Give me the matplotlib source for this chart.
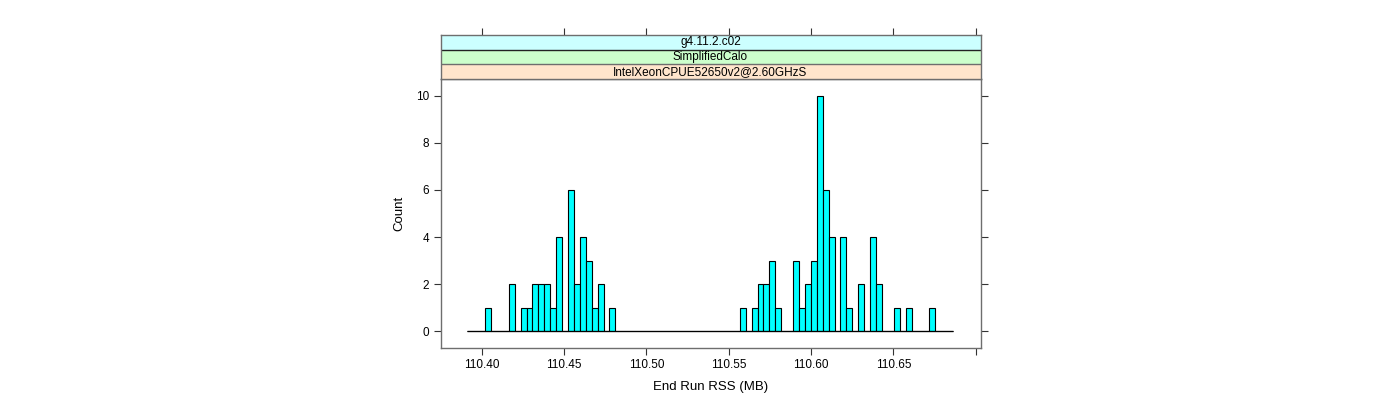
import matplotlib
matplotlib.use("Agg")
import matplotlib.pyplot as plt
import numpy as np

# ---- data ----
bin_start = 110.39126
bin_width = 0.003597
counts = [0, 0, 0, 1, 0, 0, 0, 2, 0, 1,
          1, 2, 2, 2, 1, 4, 0, 6, 2, 4,
          3, 1, 2, 0, 1, 0, 0, 0, 0, 0,
          0, 0, 0, 0, 0, 0, 0, 0, 0, 0,
          0, 0, 0, 0, 0, 0, 1, 0, 1, 2,
          2, 3, 1, 0, 0, 3, 1, 2, 3, 10,
          6, 4, 0, 4, 1, 0, 2, 0, 4, 2,
          0, 0, 1, 0, 1, 0, 0, 0, 1, 0,
          0, 0]
x_ticks = [110.40, 110.45, 110.50, 110.55, 110.60, 110.65, 110.70]
x_tick_labels = ["110.40", "110.45", "110.50", "110.55", "110.60", "110.65", ""]
y_ticks = [0, 2, 4, 6, 8, 10]
strip_labels = ["IntelXeonCPUE52650v2@2.60GHzS", "SimplifiedCalo", "g4.11.2.c02"]
strip_colors = ["#ffe5cc", "#ccffcc", "#ccffff"]
x_label = "End Run RSS (MB)"
y_label = "Count"

plt.rcParams['font.family'] = ['Liberation Sans', 'DejaVu Sans']

W, H = 1400, 400
fig = plt.figure(figsize=(W / 100, H / 100), dpi=100)

px_left, px_right = 440.5, 980.5
px_top, px_bottom = 79, 348
strip_top = 35

ax = fig.add_axes([px_left / W, 1 - px_bottom / H, (px_right - px_left) / W, (px_bottom - px_top) / H])
xlim = (110.3750, 110.7029)
ax.set_xlim(*xlim)
ax.set_ylim(-0.7, 10.7)

edges = bin_start + bin_width * np.arange(len(counts))
ax.bar(edges, counts, width=bin_width, align='edge', color='#00ffff',
       edgecolor='black', linewidth=0.8)
ax.hlines(0, edges[0], edges[-1] + bin_width, color='black', linewidth=0.9)

axis_col = '#6e6e6e'
tick_col = '#333333'
for s in ax.spines.values():
    s.set_color(axis_col)
    s.set_linewidth(1.0)
ax.set_xticks(x_ticks)
ax.set_xticklabels(x_tick_labels)
ax.set_yticks(y_ticks)
ax.tick_params(axis='both', direction='out', length=5, width=0.8, color=tick_col,
               labelsize=8.5, pad=3)
ax.tick_params(axis='y', right=True, labelright=False)
ax.set_xlabel(x_label, fontsize=9.5, labelpad=7)
ax.set_ylabel(y_label, fontsize=9.5, labelpad=8)

# strips
sax = fig.add_axes([px_left / W, 1 - px_top / H, (px_right - px_left) / W, (px_top - strip_top) / H])
sax.set_xlim(*xlim)
sax.set_ylim(0, 3)
for i, (lab, col) in enumerate(zip(strip_labels, strip_colors)):
    sax.axhspan(i, i + 1, facecolor=col, edgecolor='none')
    if i > 0:
        sax.axhline(i, color='#222222' if i == 2 else axis_col, linewidth=1.0)
    sax.text(sum(xlim) / 2, i + 0.5, lab, ha='center', va='center', fontsize=8.5)
for s in sax.spines.values():
    s.set_color(axis_col)
    s.set_linewidth(1.0)
sax.set_yticks([])
sax.set_xticks(x_ticks)
sax.tick_params(axis='x', bottom=False, labelbottom=False, top=True, labeltop=False,
                direction='out', length=5, width=0.8, color=tick_col)

fig.savefig("out.png", dpi=100)
